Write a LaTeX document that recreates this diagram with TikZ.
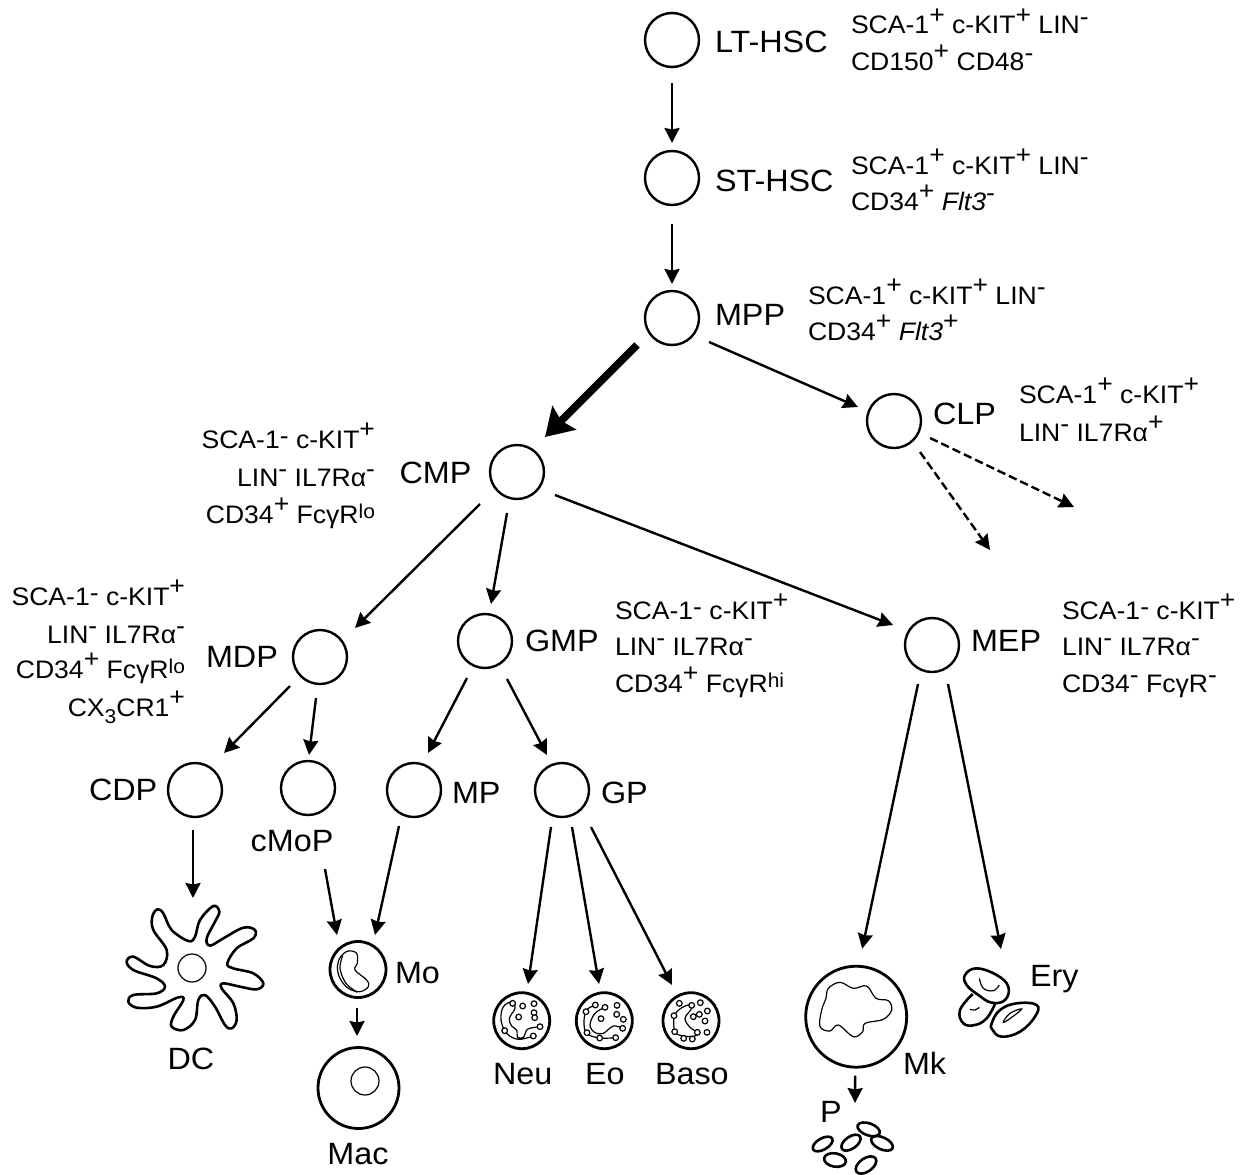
\documentclass[tikz,border=0pt]{standalone}
\usepackage{fontspec}
\setmainfont{Liberation Sans}[FakeStretch=1.05]
\usetikzlibrary{arrows.meta}
\newcommand\plusup{\raisebox{10.5pt}{+}}
\newcommand\minusup{\raisebox{9pt}{-}}
\newcommand\minuslow{\raisebox{4pt}{-}}
\newcommand\loup{\raisebox{5pt}{\fontsize{20}{20}\selectfont lo}}
\newcommand\hiup{\raisebox{5pt}{\fontsize{20}{20}\selectfont hi}}
\tikzset{
  cell/.style={circle,draw,line width=2.4pt,minimum size=54pt,inner sep=0pt,outer sep=0pt},
  tcell/.style={circle,draw,line width=2.8pt,inner sep=0pt,outer sep=0pt},
  nuc/.style={circle,draw,line width=1.2pt,inner sep=0pt,outer sep=0pt},
  popname/.style={font=\fontsize{30.8}{30.8}\selectfont,inner sep=0pt,outer sep=0pt},
  marker/.style={font=\fontsize{25.3}{25.3}\selectfont,inner sep=0pt,outer sep=0pt},
  arr/.style={line width=2.4pt,-{Stealth[length=15pt,width=15pt,inset=1.5pt]}},
  dasharr/.style={arr,dash pattern=on 8.5pt off 4pt},
  heavy/.style={line width=7.5pt,-{Stealth[length=27pt,width=33pt,inset=4pt]}},
  cellline/.style={line width=2.6pt,line join=round},
  thinline/.style={line width=1.2pt},
  gran/.style={line width=1.2pt,fill=white},
}
\begin{document}
\begin{tikzpicture}[x=1pt,y=-1pt]
\useasboundingbox (0,0) rectangle (1245,1175);

% progenitor circles
\node[cell] (lt) at (672,40) {};
\node[cell] (st) at (672,178) {};
\node[cell] (mpp) at (672,318) {};
\node[cell] (clp) at (894,421) {};
\node[cell] (cmp) at (517,472) {};
\node[cell] (mdp) at (320,657) {};
\node[cell] (gmp) at (485,641) {};
\node[cell] (mep) at (932,645) {};
\node[cell] (cdp) at (195,790) {};
\node[cell] (cmop) at (308,788) {};
\node[cell] (mp) at (414,790) {};
\node[cell] (gp) at (562,790) {};

% mature cells
\node[nuc,minimum size=28pt] (dc) at (192,968) {};
\node[tcell,minimum size=56pt] (mo) at (358,969.5) {};
\node[tcell,minimum size=81pt] (mac) at (358.5,1088) {};
\node[nuc,minimum size=28pt] (macn) at (365,1081) {};
\node[tcell,minimum size=56pt] (neu) at (521.7,1020.7) {};
\node[tcell,minimum size=56pt] (eo) at (604.3,1020.7) {};
\node[tcell,minimum size=56pt] (baso) at (691,1020.7) {};
\node[tcell,minimum size=101pt] (mk) at (856.2,1016.7) {};

% population names
\node[popname,anchor=base west] (tlt) at (715,52) {LT-HSC};
\node[popname,anchor=base west] (tst) at (715,191) {ST-HSC};
\node[popname,anchor=base west] (tmpp) at (715,325) {MPP};
\node[popname,anchor=base west] (tclp) at (933,424) {CLP};
\node[popname,anchor=base west] (tcmp) at (399.5,483) {CMP};
\node[popname,anchor=base west] (tmdp) at (206,667) {MDP};
\node[popname,anchor=base west] (tgmp) at (525,651) {GMP};
\node[popname,anchor=base west] (tmep) at (971,651) {MEP};
\node[popname,anchor=base west] (tcdp) at (89,800) {CDP};
\node[popname,anchor=base] (tcmop) at (292,851) {cMoP};
\node[popname,anchor=base west] (tmp) at (452,803) {MP};
\node[popname,anchor=base west] (tgp) at (601,803) {GP};
\node[popname,anchor=base west] (tmo) at (395,983) {Mo};
\node[popname,anchor=base] (tmac) at (358,1164) {Mac};
\node[popname,anchor=base] (tdc) at (191,1069) {DC};
\node[popname,anchor=base west] (tneu) at (493,1084) {Neu};
\node[popname,anchor=base west] (teo) at (585,1084) {Eo};
\node[popname,anchor=base west] (tbaso) at (655,1084) {Baso};
\node[popname,anchor=base west] (tmk) at (903,1074) {Mk};
\node[popname,anchor=base west] (pl) at (820,1122) {P};
\node[popname,anchor=base west] (ery) at (1030,986) {Ery};

% surface markers
\node[marker,anchor=base west] (m1) at (851,34) {SCA-1\plusup{} c-KIT\plusup{} LIN\minusup};
\node[marker,anchor=base west] (m2) at (851,70) {CD150\plusup{} CD48\minusup};
\node[marker,anchor=base west] (m3) at (851,174) {SCA-1\plusup{} c-KIT\plusup{} LIN\minusup};
\node[marker,anchor=base west] (m4) at (851,210) {CD34\plusup{} \textit{Flt3}\minusup};
\node[marker,anchor=base west] (m5) at (808,304) {SCA-1\plusup{} c-KIT\plusup{} LIN\minusup};
\node[marker,anchor=base west] (m6) at (808,340) {CD34\plusup{} \textit{Flt3}\plusup};
\node[marker,anchor=base west] (m7) at (1019,403) {SCA-1\plusup{} c-KIT\plusup};
\node[marker,anchor=base west] (m8) at (1019,441) {LIN\minusup{} IL7Rα\plusup};
\node[marker,anchor=base east] (m9) at (375,448) {SCA-1\minuslow{} c-KIT\plusup};
\node[marker,anchor=base east] (m10) at (375,486) {LIN\minusup{} IL7Rα\minusup};
\node[marker,anchor=base east] (m11) at (375,523) {CD34\plusup{} FcγR\loup};
\node[marker,anchor=base east] (m12) at (185,605) {SCA-1\minuslow{} c-KIT\plusup};
\node[marker,anchor=base east] (m13) at (185,643) {LIN\minusup{} IL7Rα\minusup};
\node[marker,anchor=base east] (m14) at (185,678) {CD34\plusup{} FcγR\loup};
\node[marker,anchor=base east] (m15) at (185,716) {CX\raisebox{-7pt}{\fontsize{20}{20}\selectfont 3}CR1\plusup};
\node[marker,anchor=base west] (m16) at (615,619) {SCA-1\minuslow{} c-KIT\plusup};
\node[marker,anchor=base west] (m17) at (615,655) {LIN\minusup{} IL7Rα\minusup};
\node[marker,anchor=base west] (m18) at (615,692) {CD34\plusup{} FcγR\hiup};
\node[marker,anchor=base west] (m19) at (1062,619) {SCA-1\minuslow{} c-KIT\plusup};
\node[marker,anchor=base west] (m20) at (1062,655) {LIN\minusup{} IL7Rα\minusup};
\node[marker,anchor=base west] (m21) at (1062,692) {CD34\minusup{} FcγR\minusup};

% lineage connectors
\coordinate (lymA) at (1074,507);
\coordinate (lymB) at (990,550);
\draw[arr] ([shift={(0,43)}]lt.center) -- ([shift={(0,-35)}]st.center);
\draw[arr] ([shift={(0,46)}]st.center) -- ([shift={(0,-34)}]mpp.center);
\draw[heavy] ([shift={(-35,27)}]mpp.center) -- ([shift={(28,-35)}]cmp.center);
\draw[arr] ([shift={(37,24)}]mpp.center) -- ([shift={(-36,-14)}]clp.center);
\draw[dasharr] ([shift={(36,17)}]clp.center) -- (lymA);
\draw[dasharr] ([shift={(26,31)}]clp.center) -- (lymB);
\draw[arr] ([shift={(-37,32)}]cmp.center) -- ([shift={(35,-29)}]mdp.center);
\draw[arr] ([shift={(-10,41)}]cmp.center) -- ([shift={(6,-37)}]gmp.center);
\draw[arr] ([shift={(38,23)}]cmp.center) -- ([shift={(-39,-20)}]mep.center);
\draw[arr] ([shift={(-30,29)}]mdp.center) -- ([shift={(29,-37)}]cdp.center);
\draw[arr] ([shift={(-4,41)}]mdp.center) -- ([shift={(1,-33)}]cmop.center);
\draw[arr] ([shift={(-18,37)}]gmp.center) -- ([shift={(14,-37)}]mp.center);
\draw[arr] ([shift={(22,38)}]gmp.center) -- ([shift={(-15,-35)}]gp.center);
\draw[arr] ([shift={(-14,39)}]mep.center) -- ([shift={(6,-68)}]mk.center);
\draw[arr] ([shift={(16,39)}]mep.center) -- ([shift={(-29,-37)}]ery.base west);
\draw[arr] ([shift={(-2,40)}]cdp.center) -- ([shift={(1,-70)}]dc.center);
\draw[arr] ([shift={(17,81)}]cmop.center) -- ([shift={(-21,-34.5)}]mo.center);
\draw[arr] ([shift={(-15,36)}]mp.center) -- ([shift={(17,-34.5)}]mo.center);
\draw[arr] ([shift={(-1,38.5)}]mo.center) -- ([shift={(-1.5,-52)}]mac.center);
\draw[arr] ([shift={(-11,37)}]gp.center) -- ([shift={(6.3,-36.7)}]neu.center);
\draw[arr] ([shift={(10,37)}]gp.center) -- ([shift={(-5.3,-36.7)}]eo.center);
\draw[arr] ([shift={(29,37)}]gp.center) -- ([shift={(-19,-35.7)}]baso.center);
\draw[arr] ([shift={(-1,59)}]mk.center) -- ([shift={(35,-19)}]pl.base west);

% dendritic cell outline and monocyte nucleus
\begin{scope}[shift={(100,880)},x=1pt/3,y=-1pt/3]
\draw[cellline] plot[smooth cycle,tension=0.6] coordinates {
 (172,88)(190,100)(215,150)(265,183)(285,170)(300,120)(340,78)(358,95)(345,125)(320,175)(330,197)
 (370,175)(430,143)(465,150)(460,175)(410,205)(382,250)(400,265)(460,280)(490,310)(470,328)
 (420,320)(370,310)(365,325)(400,370)(410,420)(395,445)(375,435)(345,380)(315,345)(295,360)
 (285,420)(250,450)(215,440)(220,410)(250,360)(235,352)(170,380)(110,383)(85,365)(100,345)
 (170,340)(195,320)(170,295)(100,270)(80,245)(100,230)(150,258)(190,255)(200,210)(160,150)(157,110)};
\draw[thinline] plot[smooth cycle,tension=0.6] coordinates {
 (745,213)(770,220)(772,250)(765,270)(800,300)(805,320)(780,335)(745,325)(720,295)(712,260)(722,230)};
\draw[thinline] plot[smooth,tension=0.6] coordinates {(728,228)(720,265)(738,310)(772,337)};
\end{scope}

% granulocyte nuclei and granules
\begin{scope}[shift={(470,950)},x=1pt/3,y=-1pt/3]
\draw[thinline] plot[smooth,tension=0.6] coordinates {
 (190,258)(145,268)(110,250)(93,210)(100,170)(128,155)(135,175)(118,205)(125,228)(140,240)(143,262)(160,262)(172,238)(195,232)(210,230)};
\foreach \gx/\gy in {128/160,158/168,192/161,192/188,194/203,146/201,210/230,190/258,104/242}
  \draw[gran] (\gx,\gy) circle (8.5);
\draw[thinline] plot[smooth,tension=0.6] coordinates {(376,165)(350,180)(342,215)(350,250)(389,264)(437,263)};
\draw[thinline] plot[smooth,tension=0.6] coordinates {(405,172)(375,190)(360,225)(375,248)(400,250)(430,228)(458,235)};
\foreach \gx/\gy in {376/165,405/172,441/166,440/193,460/208,458/235,437/263,389/264,351/248,348/185,393/206}
  \draw[gran] (\gx,\gy) circle (8.5);
\draw[thinline] plot[smooth,tension=0.6] coordinates {(612,197)(628,178)(655,165)(665,175)(645,205)(660,232)(682,247)(675,258)(640,258)(614,245)(612,197)};
\foreach \gx/\gy in {628/160,665/166,691/158,712/183,688/193,670/200,705/213,711/247,682/247,667/267,641/265,614/245,612/197}
  \draw[gran] (\gx,\gy) circle (8.5);
\end{scope}

% megakaryocyte nucleus, erythrocytes and platelets
\begin{scope}[shift={(790,930)},x=1pt/3,y=-1pt/3]
\draw[thinline] plot[smooth cycle,tension=0.6] coordinates {
 (115,175)(150,157)(190,175)(230,168)(258,205)(295,212)(305,240)(280,268)(225,280)(218,305)(190,320)(145,285)(120,303)(90,290)(95,240)(108,205)};
\draw[cellline] plot[smooth,tension=0.7] coordinates {(548,192)(510,240)(520,280)(555,285)(590,265)(615,222)};
\draw[cellline,fill=white] plot[smooth cycle,tension=0.7] coordinates {
 (525,135)(560,115)(620,135)(655,170)(645,210)(605,218)(565,195)(530,165)};
\draw[cellline,fill=white] plot[smooth cycle,tension=0.7] coordinates {
 (605,280)(630,240)(680,220)(740,225)(735,260)(690,305)(635,320)(608,300)};
\draw[thinline] plot[smooth,tension=0.7] coordinates {(568,145)(580,175)(610,182)(628,165)};
\draw[thinline] plot[smooth,tension=0.7] coordinates {(540,238)(555,240)(568,232)};
\draw[thinline] plot[smooth cycle,tension=0.7] coordinates {(640,277)(660,250)(695,237)(665,262)};
\foreach \px/\py/\pa/\prx/\pry in {98/642/30/33/17,183/638/35/33/18,236/598/-20/35/18,276/640/-25/35/18,135/690/-10/33/20,228/705/35/35/20}
  \draw[cellline,rotate around={\pa:(\px,\py)}] (\px,\py) ellipse ({\prx} and {\pry});
\end{scope}
\end{tikzpicture}
\end{document}
